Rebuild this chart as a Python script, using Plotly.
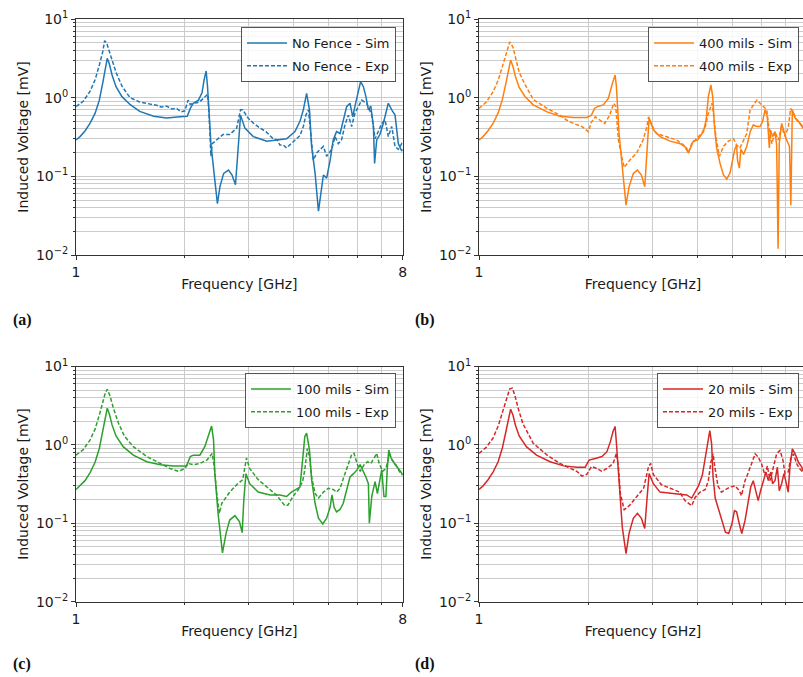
import math
import plotly.graph_objects as go

# ---------------- data (frequency in GHz, induced voltage in mV) ----------------
a_sim_f = [1.00,1.026,1.059,1.093,1.129,1.16,1.185,1.205,1.22,1.236,1.258,1.29,1.34,1.41,1.50,1.64,1.78,1.94,2.03,2.07,2.11,2.18,2.23,2.26,2.29,2.31,2.36,2.42,2.46,2.50,2.56,2.64,2.70,2.76,2.79,2.85,2.93,3.09,3.37,3.66,3.82,4.03,4.16,4.25,4.34,4.42,4.48,4.58,4.68,4.78,4.83,4.93,5.04,5.14,5.25,5.37,5.48,5.60,5.72,5.82,5.90,6.03,6.12,6.23,6.33,6.43,6.53,6.64,6.69,6.78,6.92,7.07,7.19,7.30,7.46,7.62,7.78,7.95,8.0]
a_sim_v = [0.29,0.32,0.377,0.47,0.63,0.93,1.52,2.36,3.16,2.7,1.94,1.38,1.03,0.82,0.67,0.58,0.55,0.57,0.58,0.73,0.85,0.93,1.15,1.68,2.18,1.38,0.26,0.089,0.045,0.074,0.109,0.12,0.104,0.078,0.16,0.60,0.41,0.32,0.28,0.29,0.30,0.37,0.50,0.70,1.13,0.70,0.24,0.11,0.036,0.074,0.104,0.095,0.16,0.29,0.37,0.35,0.52,0.77,0.85,0.57,0.77,1.19,1.6,1.38,1.03,0.70,0.78,0.43,0.146,0.29,0.34,0.47,0.63,0.85,0.70,0.60,0.26,0.21,0.22]
a_exp_f = [1.00,1.047,1.093,1.13,1.16,1.185,1.20,1.215,1.25,1.29,1.34,1.41,1.50,1.57,1.67,1.72,1.78,1.84,1.90,1.95,2.0,2.04,2.07,2.11,2.16,2.20,2.27,2.31,2.33,2.36,2.38,2.45,2.55,2.66,2.78,2.85,2.89,2.99,3.1,3.23,3.35,3.51,3.6,3.66,3.74,3.82,4.03,4.16,4.25,4.32,4.39,4.45,4.53,4.63,4.73,4.83,4.93,5.09,5.2,5.31,5.42,5.54,5.66,5.78,5.90,6.03,6.16,6.36,6.57,6.71,6.85,7.0,7.15,7.30,7.46,7.62,7.78,7.95,8.0]
a_exp_v = [0.77,0.90,1.2,1.7,2.6,3.8,5.3,5.0,3.3,2.1,1.4,1.0,0.88,0.85,0.80,0.76,0.78,0.72,0.73,0.66,0.68,0.93,0.82,0.85,0.86,0.89,1.03,1.1,0.7,0.18,0.26,0.29,0.34,0.34,0.41,0.70,0.70,0.55,0.47,0.41,0.37,0.30,0.29,0.25,0.25,0.23,0.29,0.33,0.43,0.60,0.70,0.39,0.16,0.20,0.22,0.24,0.18,0.22,0.32,0.26,0.29,0.45,0.60,0.43,0.63,0.77,0.93,0.85,0.60,0.30,0.37,0.47,0.52,0.32,0.43,0.24,0.22,0.26,0.25]

b_sim_f = [1.00,1.026,1.059,1.093,1.129,1.16,1.185,1.205,1.222,1.24,1.26,1.29,1.34,1.41,1.54,1.67,1.82,1.98,2.04,2.08,2.13,2.20,2.27,2.33,2.37,2.39,2.43,2.47,2.54,2.59,2.66,2.73,2.80,2.86,2.90,2.94,3.02,3.15,3.36,3.58,3.73,3.77,3.89,4.0,4.06,4.15,4.22,4.28,4.35,4.40,4.45,4.51,4.61,4.71,4.81,4.91,4.99,5.06,5.12,5.15,5.21,5.26,5.35,5.46,5.58,5.69,5.82,5.94,6.04,6.13,6.22,6.30,6.35,6.43,6.53,6.60,6.66,6.71,6.81,6.91,7.03,7.16,7.22,7.29,7.42,7.58,7.80,8.0]
b_sim_v = [0.29,0.32,0.38,0.47,0.64,0.95,1.5,2.2,3.0,2.5,1.85,1.35,1.03,0.81,0.66,0.58,0.56,0.56,0.60,0.73,0.78,0.81,0.98,1.52,1.94,1.38,0.35,0.16,0.043,0.074,0.109,0.12,0.104,0.074,0.20,0.55,0.39,0.32,0.28,0.26,0.23,0.196,0.28,0.29,0.32,0.37,0.52,1.03,1.45,1.03,0.43,0.23,0.146,0.104,0.092,0.11,0.16,0.22,0.25,0.16,0.127,0.22,0.19,0.24,0.37,0.45,0.43,0.43,0.50,0.70,0.57,0.23,0.39,0.32,0.37,0.25,0.012,0.26,0.47,0.37,0.29,0.24,0.043,0.70,0.55,0.50,0.41,0.38]
b_exp_f = [1.00,1.047,1.093,1.13,1.16,1.19,1.215,1.24,1.26,1.29,1.34,1.41,1.54,1.67,1.74,1.82,1.92,2.0,2.04,2.09,2.15,2.22,2.29,2.35,2.38,2.42,2.47,2.51,2.60,2.72,2.83,2.90,2.93,2.99,3.08,3.28,3.50,3.66,3.77,3.85,3.98,4.1,4.2,4.28,4.38,4.42,4.49,4.59,4.71,4.86,5.02,5.12,5.23,5.35,5.46,5.58,5.69,5.82,5.94,6.07,6.20,6.26,6.40,6.53,6.67,6.81,6.96,7.11,7.21,7.34,7.50,7.80,8.0]
b_exp_v = [0.73,0.88,1.18,1.68,2.5,3.6,5.1,4.4,3.2,2.1,1.45,0.95,0.73,0.60,0.52,0.47,0.43,0.37,0.49,0.57,0.52,0.47,0.60,0.85,0.77,0.29,0.18,0.13,0.16,0.20,0.29,0.43,0.57,0.45,0.35,0.32,0.29,0.25,0.20,0.26,0.30,0.35,0.43,0.63,0.85,0.63,0.32,0.18,0.24,0.28,0.30,0.25,0.23,0.29,0.35,0.70,0.81,0.93,0.85,0.77,0.70,0.47,0.26,0.37,0.29,0.43,0.32,0.43,0.73,0.63,0.52,0.43,0.40]

c_sim_f = [1.00,1.026,1.059,1.093,1.129,1.16,1.185,1.205,1.22,1.236,1.258,1.29,1.35,1.44,1.57,1.71,1.86,2.02,2.07,2.11,2.20,2.27,2.34,2.37,2.40,2.42,2.47,2.54,2.60,2.66,2.75,2.83,2.88,2.91,2.95,3.02,3.19,3.44,3.66,3.82,3.94,4.07,4.16,4.23,4.29,4.34,4.42,4.48,4.58,4.68,4.81,4.93,5.04,5.10,5.17,5.25,5.37,5.48,5.60,5.72,5.85,5.98,6.10,6.23,6.33,6.43,6.47,6.57,6.71,6.81,6.92,7.0,7.1,7.19,7.25,7.32,7.43,7.62,7.78,7.95,8.0]
c_sim_v = [0.27,0.30,0.35,0.44,0.60,0.90,1.45,2.2,2.94,2.5,1.8,1.3,0.95,0.74,0.61,0.56,0.54,0.54,0.71,0.74,0.74,0.95,1.41,1.74,1.16,0.43,0.134,0.042,0.075,0.11,0.125,0.105,0.076,0.20,0.43,0.32,0.25,0.23,0.23,0.22,0.25,0.27,0.29,0.64,1.28,1.41,0.86,0.36,0.18,0.116,0.098,0.116,0.16,0.23,0.16,0.14,0.15,0.18,0.27,0.39,0.43,0.48,0.56,0.46,0.39,0.32,0.10,0.22,0.34,0.24,0.36,0.48,0.22,0.22,0.48,0.86,0.68,0.56,0.50,0.43,0.42]
c_exp_f = [1.00,1.047,1.093,1.13,1.16,1.185,1.205,1.22,1.24,1.27,1.31,1.36,1.44,1.57,1.71,1.82,1.92,2.0,2.04,2.11,2.20,2.30,2.38,2.41,2.45,2.49,2.53,2.66,2.78,2.89,2.96,3.02,3.19,3.37,3.58,3.77,3.85,3.98,4.12,4.23,4.29,4.36,4.42,4.48,4.58,4.68,4.83,4.98,5.14,5.25,5.37,5.54,5.66,5.78,5.87,5.98,6.10,6.26,6.40,6.53,6.67,6.78,6.89,7.04,7.19,7.35,7.48,7.66,7.83,8.0]
c_exp_v = [0.74,0.87,1.15,1.6,2.4,3.5,4.6,5.13,4.3,2.9,1.9,1.3,0.95,0.71,0.58,0.50,0.46,0.50,0.58,0.56,0.58,0.64,0.78,0.53,0.24,0.134,0.18,0.25,0.31,0.36,0.68,0.50,0.36,0.29,0.23,0.17,0.17,0.22,0.27,0.34,0.48,0.90,0.71,0.39,0.24,0.21,0.25,0.28,0.27,0.25,0.28,0.43,0.56,0.75,0.78,0.58,0.46,0.56,0.61,0.58,0.68,0.78,0.58,0.46,0.50,0.75,0.64,0.56,0.46,0.41]

d_sim_f = [1.00,1.026,1.059,1.093,1.129,1.16,1.185,1.205,1.222,1.24,1.26,1.29,1.35,1.44,1.57,1.71,1.86,1.96,2.01,2.09,2.18,2.25,2.30,2.34,2.37,2.39,2.43,2.48,2.54,2.59,2.66,2.73,2.80,2.86,2.90,2.94,3.02,3.15,3.42,3.58,3.73,3.85,3.94,4.02,4.12,4.20,4.27,4.32,4.37,4.41,4.47,4.58,4.68,4.77,4.87,4.97,5.05,5.12,5.21,5.29,5.40,5.52,5.60,5.69,5.79,5.87,5.96,6.07,6.17,6.26,6.36,6.43,6.53,6.63,6.71,6.81,6.91,6.99,7.10,7.18,7.29,7.42,7.58,7.74,7.80,8.0]
d_sim_v = [0.27,0.30,0.36,0.45,0.61,0.92,1.45,2.15,2.85,2.4,1.78,1.3,0.95,0.74,0.61,0.54,0.52,0.52,0.64,0.67,0.71,0.82,1.1,1.49,1.72,1.05,0.32,0.09,0.041,0.075,0.116,0.134,0.116,0.086,0.20,0.43,0.32,0.25,0.24,0.237,0.23,0.21,0.25,0.30,0.41,0.70,1.14,1.52,1.03,0.39,0.21,0.145,0.098,0.077,0.074,0.098,0.145,0.14,0.098,0.074,0.108,0.195,0.29,0.35,0.24,0.195,0.26,0.35,0.45,0.35,0.45,0.32,0.35,0.52,0.26,0.32,0.43,0.35,0.25,0.52,0.89,0.77,0.60,0.52,0.47,0.45]
d_exp_f = [1.00,1.047,1.093,1.13,1.16,1.19,1.215,1.235,1.255,1.28,1.32,1.41,1.54,1.67,1.78,1.86,1.92,1.98,2.04,2.11,2.18,2.25,2.34,2.39,2.42,2.45,2.51,2.60,2.72,2.84,2.93,2.97,3.02,3.18,3.36,3.57,3.69,3.85,3.94,4.06,4.20,4.28,4.35,4.41,4.46,4.55,4.65,4.77,4.91,5.07,5.21,5.28,5.40,5.52,5.64,5.76,5.87,6.00,6.13,6.22,6.33,6.46,6.60,6.74,6.86,6.96,7.10,7.21,7.34,7.50,7.66,7.80,8.0]
d_exp_v = [0.78,0.93,1.22,1.75,2.6,3.8,5.2,5.3,4.3,3.0,1.88,1.05,0.74,0.58,0.50,0.46,0.40,0.42,0.53,0.50,0.46,0.50,0.58,0.78,0.53,0.24,0.149,0.17,0.22,0.28,0.53,0.58,0.42,0.31,0.28,0.25,0.195,0.168,0.215,0.25,0.27,0.35,0.60,0.77,0.52,0.30,0.25,0.27,0.29,0.30,0.26,0.225,0.35,0.45,0.60,0.77,0.70,0.57,0.41,0.54,0.35,0.52,0.77,0.85,0.66,0.43,0.45,0.66,0.77,0.57,0.49,0.45,0.43]

panel_names = ["No Fence", "400 mils", "100 mils", "20 mils"]
panel_tags = ["(a)", "(b)", "(c)", "(d)"]
y_tick_vals = [0.01, 0.1, 1, 10]
y_tick_text = ["10<sup>\u22122</sup>", "10<sup>\u22121</sup>", "10<sup>0</sup>", "10<sup>1</sup>"]
x_tick_vals = [1, 8]
x_tick_text = ["1", "8"]

# ---------------- layout geometry ----------------
W, H = 812, 677
colors = ["#1f77b4", "#ff7f0e", "#2ca02c", "#d62728"]
panels = [
    (a_sim_f, a_sim_v, a_exp_f, a_exp_v),
    (b_sim_f, b_sim_v, b_exp_f, b_exp_v),
    (c_sim_f, c_sim_v, c_exp_f, c_exp_v),
    (d_sim_f, d_sim_v, d_exp_f, d_exp_v),
]
# pixel boxes: (left, right, top, bottom)
boxes = [(76, 402.7, 19, 255), (479, 807, 19, 255),
         (76, 402.7, 366.5, 601.7), (479, 807, 366.5, 601.7)]
legend_pos = [(396, 27), (799, 27), (396, 373), (799, 373)]
tag_pos = [(22, 320), (425, 320), (22, 664), (425, 664)]

minor_y = [m * 10 ** e for e in (-2, -1, 0) for m in range(2, 10)]
minor_x = [2, 3, 4, 5, 6, 7]

fig = go.Figure()
grid_c = "#cbcbcb"
axis_c = "#333333"
font_fam = "DejaVu Sans, Verdana, sans-serif"

layout = dict(
    width=W, height=H, margin=dict(l=0, r=0, t=0, b=0),
    paper_bgcolor="white", plot_bgcolor="white",
    template="none", showlegend=True,
    font=dict(family=font_fam, size=14, color="#1a1a1a"),
    annotations=[],
)

for i, (sf, sv, ef, ev) in enumerate(panels):
    k = "" if i == 0 else str(i + 1)
    L, R, T, B = boxes[i]
    leg = "legend" if i == 0 else f"legend{i + 1}"
    fig.add_trace(go.Scatter(x=sf, y=sv, mode="lines", name=f"{panel_names[i]} - Sim",
                             line=dict(color=colors[i], width=1.5),
                             legendgroup=f"s{i}",
                             xaxis="x" + k, yaxis="y" + k, legend=leg))
    fig.add_trace(go.Scatter(x=ef, y=ev, mode="lines", name=f"{panel_names[i]} - Exp",
                             line=dict(color=colors[i], width=1.5, dash="4px,2px"),
                             legendgroup=f"e{i}",
                             xaxis="x" + k, yaxis="y" + k, legend=leg))
    layout["xaxis" + k] = dict(
        type="log", range=[0, math.log10(8)], domain=[L / W, R / W],
        anchor="y" + k, tickvals=x_tick_vals, ticktext=x_tick_text,
        ticks="outside", ticklen=4, tickwidth=1, tickcolor=axis_c,
        showline=True, linecolor=axis_c, linewidth=1, mirror=True,
        showgrid=True, gridcolor=grid_c, gridwidth=1, zeroline=False,
        automargin=False, tickfont=dict(size=14),
        minor=dict(tickvals=minor_x, showgrid=True, gridcolor=grid_c, gridwidth=1,
                   ticks="outside", ticklen=2, tickcolor=axis_c),
        title=dict(text="Frequency [GHz]", font=dict(size=14), standoff=0),
    )
    layout["yaxis" + k] = dict(
        type="log", range=[-2, 1], domain=[(H - B) / H, (H - T) / H],
        anchor="x" + k, tickvals=y_tick_vals, ticktext=y_tick_text,
        ticks="outside", ticklen=4, tickwidth=1, tickcolor=axis_c,
        showline=True, linecolor=axis_c, linewidth=1, mirror=True,
        showgrid=True, gridcolor=grid_c, gridwidth=1, zeroline=False,
        automargin=False, tickfont=dict(size=14),
        minor=dict(tickvals=minor_y, showgrid=True, gridcolor=grid_c, gridwidth=1,
                   ticks="outside", ticklen=2, tickcolor=axis_c),
        title=dict(text="Induced Voltage [mV]", font=dict(size=14), standoff=4),
    )
    lx, ly = legend_pos[i]
    layout[leg] = dict(
        x=lx / W, y=(H - ly) / H, xanchor="right", yanchor="top",
        xref="paper", yref="paper",
        bgcolor="rgba(255,255,255,0.85)", bordercolor="#555555", borderwidth=1,
        font=dict(size=13, family=font_fam, color="#1a1a1a"),
        traceorder="grouped", tracegroupgap=3, itemwidth=40,
    )
    tx, ty = tag_pos[i]
    layout["annotations"].append(dict(
        text="<b>" + panel_tags[i] + "</b>", x=tx / W, y=(H - ty) / H,
        xref="paper", yref="paper", showarrow=False, xanchor="center", yanchor="middle",
        font=dict(family="Liberation Serif, DejaVu Serif, serif", size=16, color="#111111"),
    ))

fig.update_layout(**layout)

fig.write_html(
    "out.html",
    config={"displayModeBar": False},
    post_script="document.body.style.margin='0';document.body.style.overflow='hidden';",
)
